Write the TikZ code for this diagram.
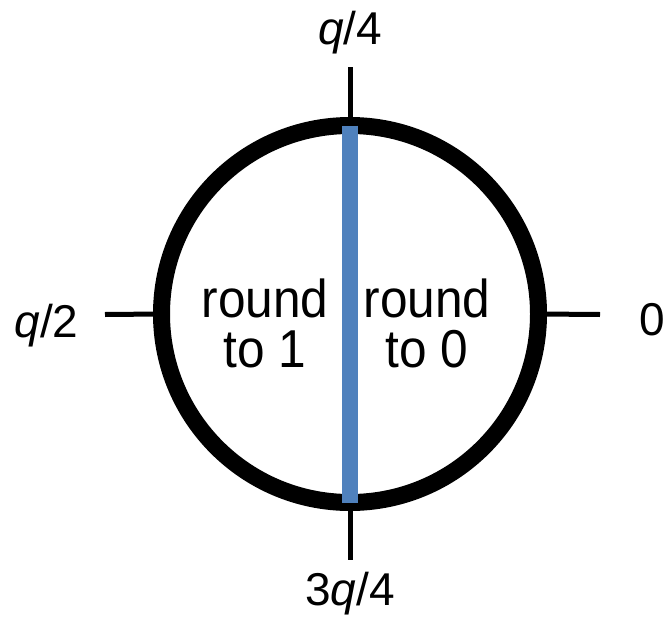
\documentclass[tikz,border=0pt]{standalone}
\usepackage{fontspec}
\setmainfont{Liberation Sans}
\definecolor{barblue}{HTML}{4F81BD}
\begin{document}
\begin{tikzpicture}[x=0.75pt,y=-0.75pt,
    ring/.style={circle, draw=black, line width=12.75pt, minimum size=282.75pt, inner sep=0pt, outer sep=0pt},
    tickline/.style={line width=3.75pt},
    bar/.style={line width=12pt, draw=barblue},
    axislabel/.style={font=\fontsize{34.5}{40}\selectfont, inner sep=0pt, anchor=base},
    half/.style={font=\fontsize{40}{37.5}\selectfont, align=center, inner sep=0pt, xscale=0.93, transform shape}]
    \useasboundingbox (0,0) rectangle (667,617);

    % the circle and its four ticks
    \node[ring] (ring) at (350,314) {};
    \coordinate (tn) at (350,67);
    \coordinate (ts) at (350,560);
    \coordinate (tw) at (105,314.5);
    \coordinate (te) at (600,314.5);
    \draw[tickline] (ring.north) -- (tn);
    \draw[tickline] (ring.south) -- (ts);
    \draw[tickline] (ring.west) -- (tw);
    \draw[tickline] (ring.east) -- (te);

    % dividing bar
    \draw[bar] (ring.north) -- (ring.south);

    \node[axislabel] (quarter) at (350,45) {\textit{q}/4};
    \node[axislabel] (threequarter) at (350,605) {3\textit{q}/4};
    \node[axislabel] (halfq) at (46.5,337) {\textit{q}/2};
    \node[axislabel] (zero) at (652.5,335) {0};

    \node[half] (one) at (265,323) {round\\to 1};
    \node[half] (nought) at (427,323) {round\\to 0};

\end{tikzpicture}
\end{document}
